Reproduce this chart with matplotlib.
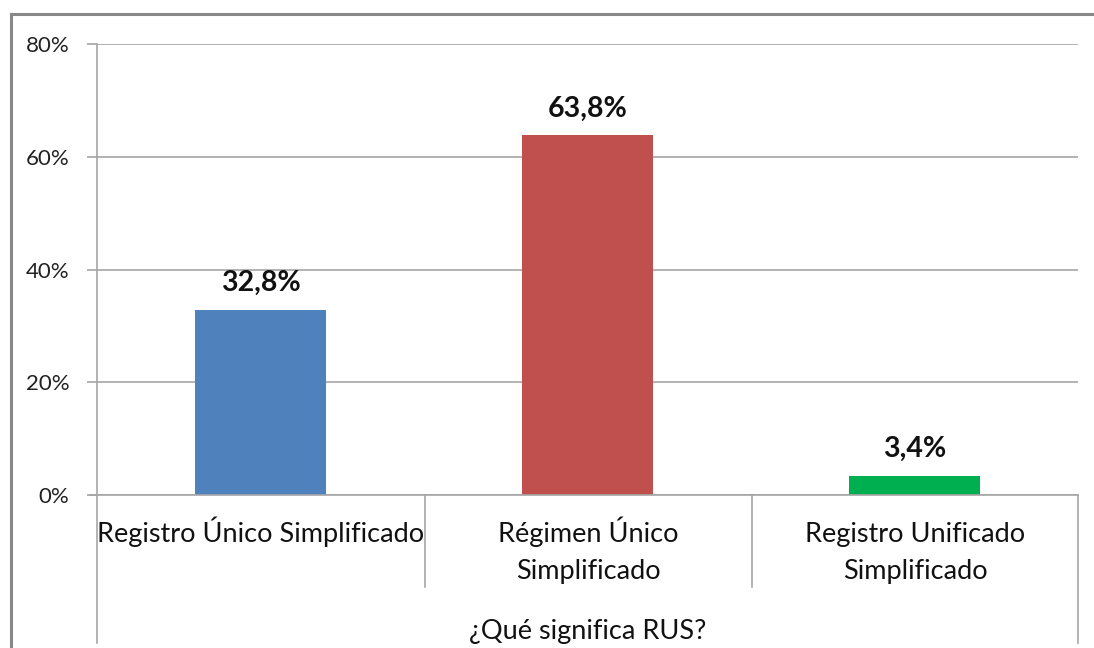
import matplotlib
matplotlib.use("Agg")
import matplotlib.pyplot as plt
from matplotlib.lines import Line2D

categories = ["Registro Único Simplificado", "Régimen Único\nSimplificado", "Registro Unificado\nSimplificado"]
values = [32.8, 63.8, 3.4]
value_labels = ["32,8%", "63,8%", "3,4%"]
colors = ["#4F81BD", "#C0504D", "#00B050"]
yticks = [0, 20, 40, 60, 80]
ytick_labels = ["0%", "20%", "40%", "60%", "80%"]
axis_title = "¿Qué significa RUS?"

W, H = 1094, 648
plt.rcParams['font.family'] = ['Lato', 'DejaVu Sans']
fig = plt.figure(figsize=(W / 100, H / 100), dpi=100)

def fx(px):
    return px / W

def fy(py):
    return 1 - py / H

L, R, T, B = 97, 1078, 44, 495
ax = fig.add_axes([fx(L), fy(B), fx(R) - fx(L), fy(T) - fy(B)])
x = list(range(len(categories)))
ax.bar(x, values, width=0.4, color=colors, zorder=3)
ax.set_xlim(-0.5, 2.5)
ax.set_ylim(0, 80)
ax.set_yticks(yticks)
ax.set_yticklabels(ytick_labels, fontsize=16, color="#222222")
ax.set_xticks([])
for s in ["top", "right", "bottom"]:
    ax.spines[s].set_visible(False)
ax.spines["left"].set_color("#a6a6a6")
ax.spines["left"].set_linewidth(1.2)
ax.tick_params(axis="y", length=7, width=1.2, color="#a6a6a6", pad=13)
ax.grid(axis="y", color="#a6a6a6", linewidth=1.2, zorder=0)

for xi, v, lab in zip(x, values, value_labels):
    ax.annotate(lab, (xi, v), xytext=(0, 10), textcoords="offset points",
                ha="center", va="bottom", fontsize=20.5, fontweight="bold", color="#111111")

# axis line at 0 extending to tick
fig.add_artist(Line2D([fx(90), fx(R)], [fy(B), fy(B)], color="#a6a6a6", lw=1.2))
# category separators
for px in [425, 752]:
    fig.add_artist(Line2D([fx(px), fx(px)], [fy(B), fy(587)], color="#a6a6a6", lw=1.2))
for px in [L, R]:
    fig.add_artist(Line2D([fx(px), fx(px)], [fy(B), fy(643)], color="#a6a6a6", lw=1.2))

centers = [261, 588, 915]
baselines = [542, 579]
for cx, cat in zip(centers, categories):
    for i, line in enumerate(cat.split("\n")):
        fig.text(fx(cx), fy(baselines[i]), line, ha="center", va="baseline",
                 fontsize=19.5, color="#111111")

fig.text(fx(588), fy(639), axis_title, ha="center", va="baseline", fontsize=19.5, color="#111111")

# outer frame
fig.add_artist(Line2D([fx(11), fx(1094)], [fy(14), fy(14)], color="#888888", lw=2.2))
fig.add_artist(Line2D([fx(11), fx(11)], [fy(14), fy(648)], color="#888888", lw=2.2))

fig.savefig("out.png", dpi=100)
